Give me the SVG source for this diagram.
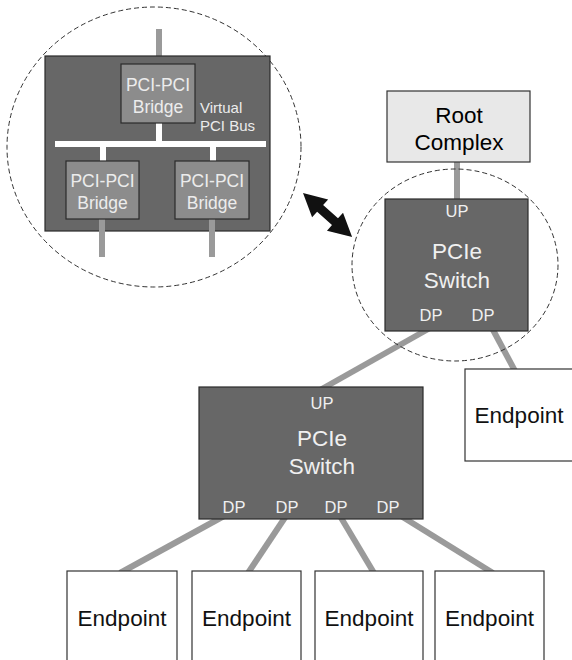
<svg xmlns="http://www.w3.org/2000/svg" width="572" height="660" viewBox="0 0 572 660">
  <style>
    text { font-family: "Liberation Sans", Arial, sans-serif; text-anchor: middle; }
    .big { font-size: 22.5px; }
    .port { font-size: 16.5px; fill: #f0f0f0; }
    .sw-label { font-size: 22.5px; fill: #f0f0f0; }
    .br-label { font-size: 17.5px; fill: #ececec; }
    .vbus { font-size: 15px; fill: #ececec; text-anchor: start; }
    .ep-label { font-size: 22.5px; fill: #111; }
    .switch { fill: #676767; stroke: #2a2a2a; stroke-width: 1.2; }
    .bridge { fill: #8c8c8c; stroke: #2a2a2a; stroke-width: 1.2; }
    .endpoint { fill: #ffffff; stroke: #333; stroke-width: 1.2; }
    .root { fill: #e8e8e8; stroke: #333; stroke-width: 1.2; }
    .link { stroke: #9a9a9a; stroke-width: 6; fill: none; }
    .bus { fill: #ffffff; }
    .zoom { fill: none; stroke: #333; stroke-width: 1; stroke-dasharray: 5 3; }
  </style>

  <!-- links between switches and endpoints (drawn under the boxes) -->
  <g id="connectors">
    <line class="link" x1="457" y1="162" x2="457" y2="200"/>
    <line class="link" x1="430" y1="328" x2="320" y2="390"/>
    <line class="link" x1="492" y1="328" x2="515" y2="371"/>
    <line class="link" x1="224" y1="516" x2="120" y2="573"/>
    <line class="link" x1="286" y1="516" x2="248" y2="573"/>
    <line class="link" x1="340" y1="516" x2="374" y2="573"/>
    <line class="link" x1="401" y1="516" x2="493" y2="573"/>
  </g>

  <!-- expanded view of the switch internals -->
  <g id="switch-internals">
    <ellipse class="zoom" cx="154" cy="147" rx="147" ry="140"/>
    <line class="link" x1="159" y1="29" x2="159" y2="65"/>
    <rect class="switch" x="45" y="56" width="225" height="175"/>
    <rect class="bus" x="156" y="122" width="6" height="22"/>
    <rect class="bus" x="55" y="141" width="211" height="6"/>
    <rect class="bus" x="100" y="144" width="6" height="18"/>
    <rect class="bus" x="210" y="144" width="6" height="18"/>
    <line class="link" x1="102" y1="218" x2="102" y2="257"/>
    <line class="link" x1="212" y1="218" x2="212" y2="257"/>
    <g id="bridge-up">
      <rect class="bridge" x="121" y="64" width="74" height="59"/>
      <text class="br-label" x="158" y="91">PCI-PCI</text>
      <text class="br-label" x="158" y="113">Bridge</text>
    </g>
    <g id="bridge-left">
      <rect class="bridge" x="66" y="161" width="73" height="58"/>
      <text class="br-label" x="102.5" y="187">PCI-PCI</text>
      <text class="br-label" x="102.5" y="209">Bridge</text>
    </g>
    <g id="bridge-right">
      <rect class="bridge" x="175" y="161" width="74" height="58"/>
      <text class="br-label" x="212" y="187">PCI-PCI</text>
      <text class="br-label" x="212" y="209">Bridge</text>
    </g>
    <text class="vbus" x="200" y="113">Virtual</text>
    <text class="vbus" x="200" y="131">PCI Bus</text>
  </g>

  <!-- double-headed arrow linking the detail to the switch -->
  <g id="zoom-arrow">
    <polygon fill="#111" transform="translate(303,193) rotate(41.9)"
      points="0,0 23,-12 23,-4.5 43,-4.5 43,-12 66,0 43,12 43,4.5 23,4.5 23,12"/>
  </g>

  <g id="root-complex">
    <rect class="root" x="387" y="91" width="143" height="71"/>
    <text class="big" x="459" y="123">Root</text>
    <text class="big" x="459" y="150">Complex</text>
  </g>

  <g id="switch-top">
    <ellipse class="zoom" cx="455" cy="265" rx="103" ry="96"/>
    <rect class="switch" x="385" y="199" width="143" height="132"/>
    <text class="port" x="457" y="217">UP</text>
    <text class="sw-label" x="457" y="259">PCIe</text>
    <text class="sw-label" x="457" y="288">Switch</text>
    <text class="port" x="431" y="321">DP</text>
    <text class="port" x="483" y="321">DP</text>
  </g>

  <g id="endpoint-right">
    <rect class="endpoint" x="465" y="369" width="120" height="92"/>
    <text class="ep-label" x="519" y="423">Endpoint</text>
  </g>

  <g id="switch-bottom">
    <rect class="switch" x="199" y="387" width="224" height="132"/>
    <text class="port" x="322" y="409">UP</text>
    <text class="sw-label" x="322" y="446">PCIe</text>
    <text class="sw-label" x="322" y="474">Switch</text>
    <text class="port" x="234" y="513">DP</text>
    <text class="port" x="287" y="513">DP</text>
    <text class="port" x="336" y="513">DP</text>
    <text class="port" x="388" y="513">DP</text>
  </g>

  <g id="endpoint-1">
    <rect class="endpoint" x="67" y="571" width="110" height="120"/>
    <text class="ep-label" x="122" y="626">Endpoint</text>
  </g>
  <g id="endpoint-2">
    <rect class="endpoint" x="192" y="571" width="109" height="120"/>
    <text class="ep-label" x="246.5" y="626">Endpoint</text>
  </g>
  <g id="endpoint-3">
    <rect class="endpoint" x="315" y="571" width="108" height="120"/>
    <text class="ep-label" x="369" y="626">Endpoint</text>
  </g>
  <g id="endpoint-4">
    <rect class="endpoint" x="435" y="571" width="109" height="120"/>
    <text class="ep-label" x="489.5" y="626">Endpoint</text>
  </g>
</svg>
